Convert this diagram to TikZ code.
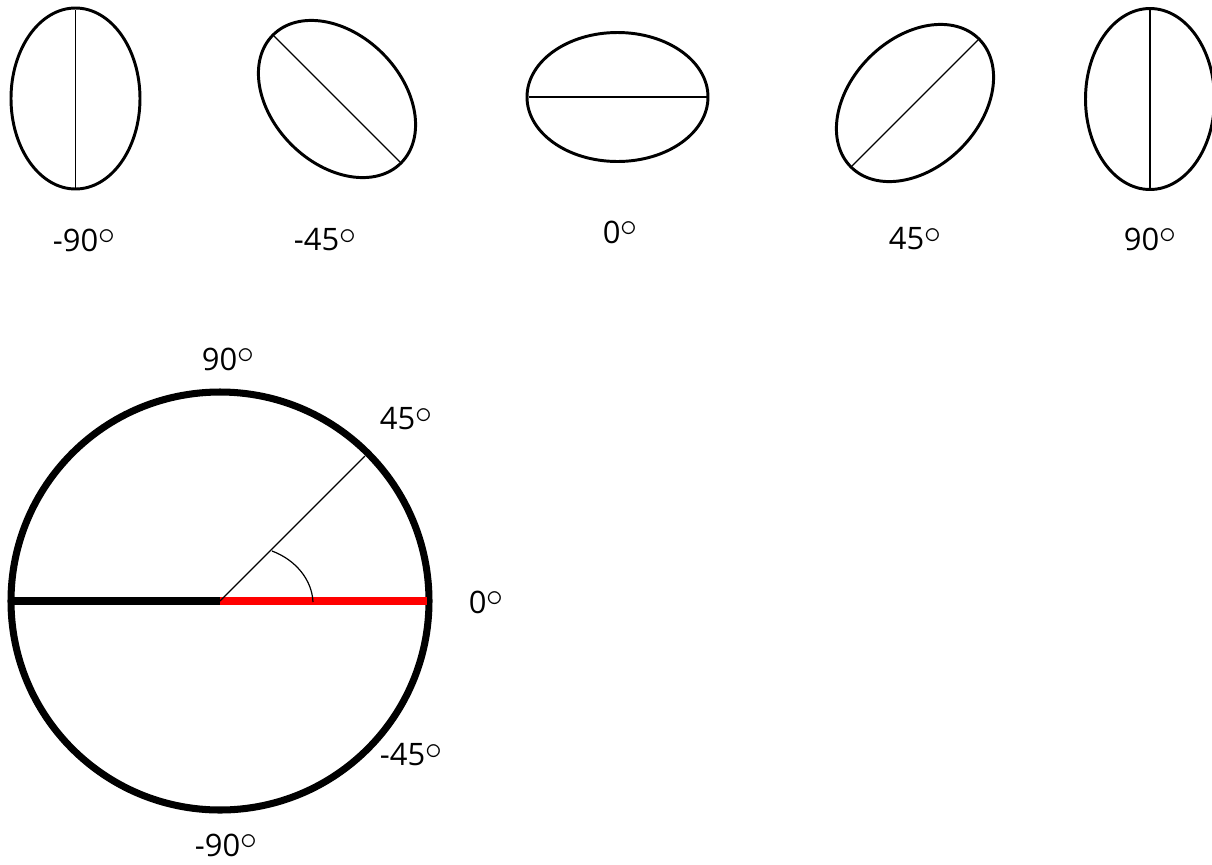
\documentclass[tikz,border=0pt]{standalone}
\usepackage{fontspec}
\setmainfont{Open Sans}
\usetikzlibrary{positioning, calc}
\newcommand{\dg}{\raisebox{4.6pt}{\scalebox{1.15}{$\circ$}}}

\begin{document}
\begin{tikzpicture}[
  x=0.025cm, y=0.025cm,
  lens/.style={line width=2.1pt},
  thinline/.style={line width=0.85pt},
  rim/.style={line width=5pt},
  deglabel/.style={font=\fontsize{22}{26}\selectfont, inner sep=0pt}
]
  \useasboundingbox (0,0) rectangle (1212,-864);

  % tilted ellipses with their long axis
  \foreach \ang/\cx/\cy/\nm in {-90/75.5/-98.5/em90, -45/337/-99/em45, 0/617.5/-97/e0, 45/915/-103/e45, 90/1150/-99/e90} {
    \draw[lens, rotate around={\ang:(\cx,\cy)}] (\cx,\cy) ellipse [x radius=90.5, y radius=64.5];
    \coordinate (\nm-a) at ($(\cx,\cy)+(\ang:89)$);
    \coordinate (\nm-b) at ($(\cx,\cy)+(\ang+180:89)$);
    \draw[thinline] (\nm-a) -- (\nm-b);
  }

  \node[deglabel] (lab-em90) at (84,-240) {-90\dg};
  \node[deglabel] (lab-em45) at (325,-240) {-45\dg};
  \node[deglabel] (lab-e0) at (620,-232) {0\dg};
  \node[deglabel] (lab-e45) at (915,-239) {45\dg};
  \node[deglabel] (lab-e90) at (1150,-239) {90\dg};

  % angle wheel
  \coordinate (o) at (220,-601);
  \coordinate (rim-w) at (11,-601);
  \coordinate (rim-e) at (427,-601);
  \coordinate (rim-ne) at ($(o)+(45:205)$);
  \draw[rim] (o) circle [radius=209];
  \draw[rim] (o) -- (rim-w);
  \draw[rim, red] (o) -- (rim-e);
  \draw[thinline] (o) -- (rim-ne);
  \coordinate (arc-s) at (272,-551);
  \coordinate (arc-e) at (313,-602);
  \draw[thinline] (arc-s) .. controls (296,-560) and (312,-580) .. (arc-e);

  \node[deglabel] (w-90) at (228,-359) {90\dg};
  \node[deglabel] (w-45) at (406,-419) {45\dg};
  \node[deglabel] (w-0) at (486,-602) {0\dg};
  \node[deglabel] (w-m45) at (411,-755) {-45\dg};
  \node[deglabel] (w-m90) at (226,-845) {-90\dg};
\end{tikzpicture}
\end{document}
